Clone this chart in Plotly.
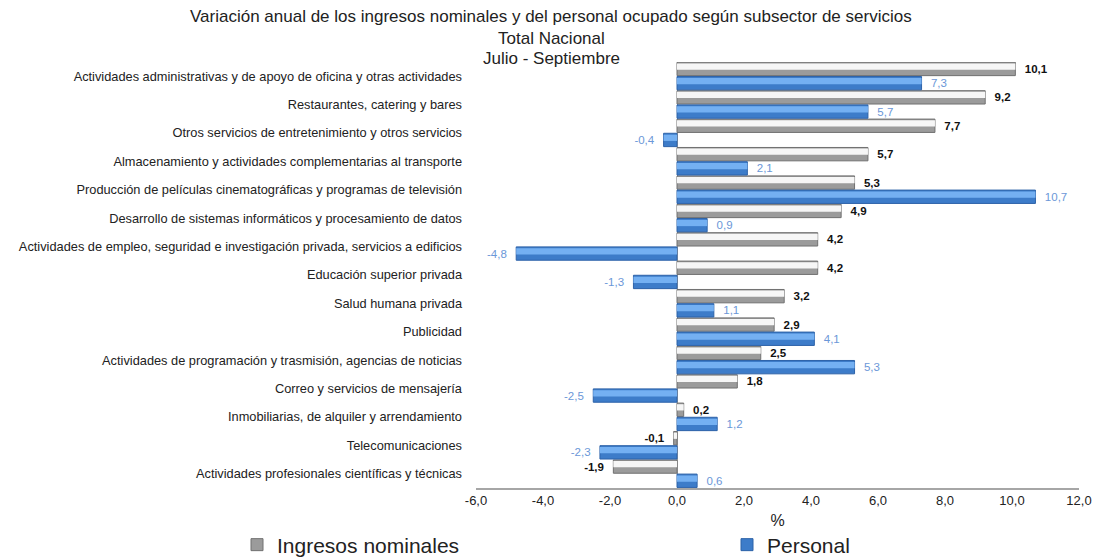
import plotly.graph_objects as go

categories = [
    "Actividades administrativas y de apoyo de oficina y otras actividades",
    "Restaurantes, catering y bares",
    "Otros servicios de entretenimiento y otros servicios",
    "Almacenamiento y actividades complementarias al transporte",
    "Producción de películas cinematográficas y programas de televisión",
    "Desarrollo de sistemas informáticos y procesamiento de datos",
    "Actividades de empleo, seguridad e investigación privada, servicios a edificios",
    "Educación superior privada",
    "Salud humana privada",
    "Publicidad",
    "Actividades de programación y trasmisión, agencias de noticias",
    "Correo y servicios de mensajería",
    "Inmobiliarias, de alquiler y arrendamiento",
    "Telecomunicaciones",
    "Actividades profesionales científicas y técnicas",
]
ingresos = [10.1, 9.2, 7.7, 5.7, 5.3, 4.9, 4.2, 4.2, 3.2, 2.9, 2.5, 1.8, 0.2, -0.1, -1.9]
personal = [7.3, 5.7, -0.4, 2.1, 10.7, 0.9, -4.8, -1.3, 1.1, 4.1, 5.3, -2.5, 1.2, -2.3, 0.6]
x_ticks = [-6, -4, -2, 0, 2, 4, 6, 8, 10, 12]
title_lines = [
    "Variación anual de los ingresos nominales y del personal ocupado según subsector de servicios",
    "Total Nacional",
    "Julio - Septiembre",
]

FONT = "Liberation Sans, Arial, sans-serif"
W, H = 1097, 559
ML, MR, MT, MB = 476, 18, 62, 71
PW, PH = W - ML - MR, H - MT - MB
PAD = "\u00a0\u00a0"


def fmt(v):
    return f"{v:.1f}".replace(".", ",")


def label(v):
    return PAD + fmt(v) if v >= 0 else fmt(v) + PAD


def px_x(p):
    return (p - ML) / PW


def px_y(p):
    return (H - MB - p) / PH


fig = go.Figure()

# Ingresos nominales (base + highlight)
fig.add_trace(go.Bar(
    name="Ingresos nominales", y=categories, x=ingresos, orientation="h",
    offset=-0.49, width=0.47, legend="legend",
    marker=dict(color="#9b9b9b", line=dict(color="#707070", width=1)),
    text=[label(v) for v in ingresos], textposition="outside",
    textfont=dict(family=FONT, size=11.5, color="#111111", weight="bold"),
    cliponaxis=False,
))
fig.add_trace(go.Bar(
    name="Ingresos nominales", y=categories, x=ingresos, orientation="h",
    offset=-0.45, width=0.22, showlegend=False, hoverinfo="skip",
    marker=dict(color="#f6f6f6", line=dict(width=0)),
))
# Personal (base + highlight)
fig.add_trace(go.Bar(
    name="Personal", y=categories, x=personal, orientation="h",
    offset=0.01, width=0.47, legend="legend2",
    marker=dict(color="#3d7cc9", line=dict(color="#2d62a8", width=1)),
    text=[label(v) for v in personal], textposition="outside",
    textfont=dict(family=FONT, size=11.5, color="#6b97d8"),
    cliponaxis=False,
))
fig.add_trace(go.Bar(
    name="Personal", y=categories, x=personal, orientation="h",
    offset=0.06, width=0.22, showlegend=False, hoverinfo="skip",
    marker=dict(color="#74b0f2", line=dict(width=0)),
))

annotations = []
for txt, py in zip(title_lines, [17, 38, 58]):
    annotations.append(dict(
        text=txt, x=px_x(551), y=px_y(py), xref="paper", yref="paper",
        xanchor="center", yanchor="middle", showarrow=False,
        font=dict(family=FONT, size=17, color="#222222"),
    ))

fig.update_layout(
    width=W, height=H,
    barmode="overlay",
    separators=",.",
    paper_bgcolor="white", plot_bgcolor="white",
    margin=dict(l=ML, r=MR, t=MT, b=MB, autoexpand=False),
    font=dict(family=FONT, color="#222222"),
    annotations=annotations,
    showlegend=True,
    legend=dict(
        orientation="h", x=px_x(237), xanchor="left", y=px_y(545), yanchor="middle",
        font=dict(family=FONT, size=21, color="#222222"),
        bgcolor="rgba(0,0,0,0)", itemwidth=30,
    ),
    legend2=dict(
        orientation="h", x=px_x(727), xanchor="left", y=px_y(545), yanchor="middle",
        font=dict(family=FONT, size=21, color="#222222"),
        bgcolor="rgba(0,0,0,0)", itemwidth=30,
    ),
)
fig.update_xaxes(
    range=[-6, 12], tickvals=x_ticks, ticktext=[fmt(v) for v in x_ticks],
    showgrid=False, zeroline=True, zerolinecolor="#9a9a9a", zerolinewidth=1,
    showline=True, linecolor="#a6a6a6", linewidth=1.5,
    ticks="", tickfont=dict(family=FONT, size=13, color="#222222"),
    title=dict(text="%", font=dict(family=FONT, size=16, color="#222222"), standoff=7),
)
fig.update_yaxes(
    type="category", autorange="reversed", showgrid=False, showline=False,
    ticks="", ticklabelstandoff=13,
    tickfont=dict(family=FONT, size=12.8, color="#222222"),
)

fig.write_html(
    "out.html",
    config={"displayModeBar": False},
    post_script="document.body.style.margin='0px';",
)
